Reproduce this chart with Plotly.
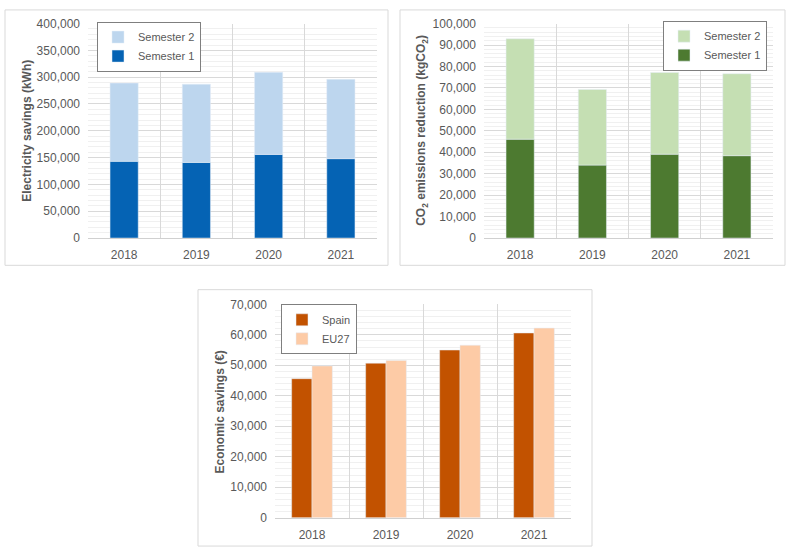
import plotly.graph_objects as go

years = ["2018", "2019", "2020", "2021"]

# Panel 1: electricity savings (kWh)
elec_sem1 = [143000, 141000, 156000, 148000]
elec_sem2 = [146000, 146000, 153000, 148000]

# Panel 2: CO2 emissions reduction (kgCO2)
co2_sem1 = [46100, 34000, 39100, 38400]
co2_sem2 = [46800, 35300, 38100, 38200]

# Panel 3: economic savings (EUR)
econ_spain = [45600, 50700, 55000, 60600]
econ_eu27 = [49800, 51600, 56600, 62200]

W, H = 789, 555
def px(x):
    return x / W
def py(y):
    return 1 - y / H

FONT = "Liberation Sans, Arial, sans-serif"
TICK = dict(family=FONT, size=12, color="#595959")

fig = go.Figure()

fig.add_trace(go.Bar(x=years, y=elec_sem1, name="Semester 1", marker_color="#0563B4",
                     xaxis="x", yaxis="y", offsetgroup="a", width=0.39, legend="legend"))
fig.add_trace(go.Bar(x=years, y=elec_sem2, base=elec_sem1, name="Semester 2", marker_color="#BDD6EE",
                     xaxis="x", yaxis="y", offsetgroup="a", width=0.39, legend="legend"))

fig.add_trace(go.Bar(x=years, y=co2_sem1, name="Semester 1", marker_color="#4D7A30",
                     xaxis="x2", yaxis="y2", offsetgroup="b", width=0.39, legend="legend2"))
fig.add_trace(go.Bar(x=years, y=co2_sem2, base=co2_sem1, name="Semester 2", marker_color="#C5DFB3",
                     xaxis="x2", yaxis="y2", offsetgroup="b", width=0.39, legend="legend2"))

fig.add_trace(go.Bar(x=years, y=econ_spain, name="Spain", marker_color="#C25200",
                     xaxis="x3", yaxis="y3", offsetgroup="s", legend="legend3"))
fig.add_trace(go.Bar(x=years, y=econ_eu27, name="EU27", marker_color="#FDCBA6",
                     xaxis="x3", yaxis="y3", offsetgroup="e", legend="legend3"))

def xax(domain, anchor):
    return dict(domain=domain, anchor=anchor, type="category", tickson="boundaries",
                showgrid=True, gridcolor="#D9D9D9", gridwidth=1, showline=True,
                linecolor="#D0D0D0", linewidth=1, ticks="", tickfont=TICK, fixedrange=True,
                zeroline=False, ticklabelstandoff=6)

def yax(domain, anchor, rng, dtick):
    return dict(domain=domain, anchor=anchor, range=rng, dtick=dtick, tickformat=",",
                showgrid=True, gridcolor="#D9D9D9", gridwidth=1, zeroline=False,
                showline=False, ticks="", tickfont=TICK, ticklabelstandoff=7,
                minor=dict(dtick=dtick / 5, showgrid=True, gridcolor="#F0F0F0", gridwidth=1))

leg_common = dict(bgcolor="white", bordercolor="#7F7F7F", borderwidth=1,
                  font=dict(family=FONT, size=11, color="#595959"),
                  yanchor="top", itemwidth=30, tracegroupgap=0)

fig.update_layout(
    width=W, height=H, margin=dict(l=0, r=0, t=0, b=0),
    paper_bgcolor="white", plot_bgcolor="white",
    barmode="group", bargap=0.45, bargroupgap=0,
    xaxis=xax([px(88), px(377)], "y"),
    yaxis=yax([py(237), py(17)], "x", [0, 400000], 50000),
    xaxis2=xax([px(484), px(773)], "y2"),
    yaxis2=yax([py(237), py(17)], "x2", [0, 100000], 10000),
    xaxis3=xax([px(275), px(571)], "y3"),
    yaxis3=yax([py(524), py(305)], "x3", [0, 70000], 10000),
    legend=dict(x=px(97), y=py(15), xanchor="left", traceorder="reversed", **leg_common),
    legend2=dict(x=px(767), y=py(14), xanchor="right", traceorder="reversed", **leg_common),
    legend3=dict(x=px(281), y=py(305), xanchor="left", traceorder="normal", **leg_common),
    showlegend=True,
)

# panel borders
for (x0, y0, x1, y1) in [(5, 3, 388, 265), (400, 3, 785, 265), (198, 290, 592, 553)]:
    fig.add_shape(type="rect", xref="paper", yref="paper",
                  x0=px(x0), y0=py(y0), x1=px(x1), y1=py(y1),
                  line=dict(color="#D9D9D9", width=1), fillcolor="rgba(0,0,0,0)", layer="below")

TITLE = dict(family=FONT, size=12, color="#595959")
for text, x, y in [
    ("<b>Electricity savings (kWh)</b>", 27, 127),
    ("<b>CO<sub>2</sub> emissions reduction (kgCO<sub>2</sub>)</b>", 422, 127),
    ("<b>Economic savings (€)</b>", 220, 415),
]:
    fig.add_annotation(text=text, xref="paper", yref="paper", x=px(x), y=py(y),
                       textangle=-90, showarrow=False, font=TITLE,
                       xanchor="center", yanchor="middle")

fig.write_html("out.html", config={"displayModeBar": False},
               post_script="document.body.style.margin='0';document.body.style.padding='0';"
                           "document.documentElement.style.margin='0';")
